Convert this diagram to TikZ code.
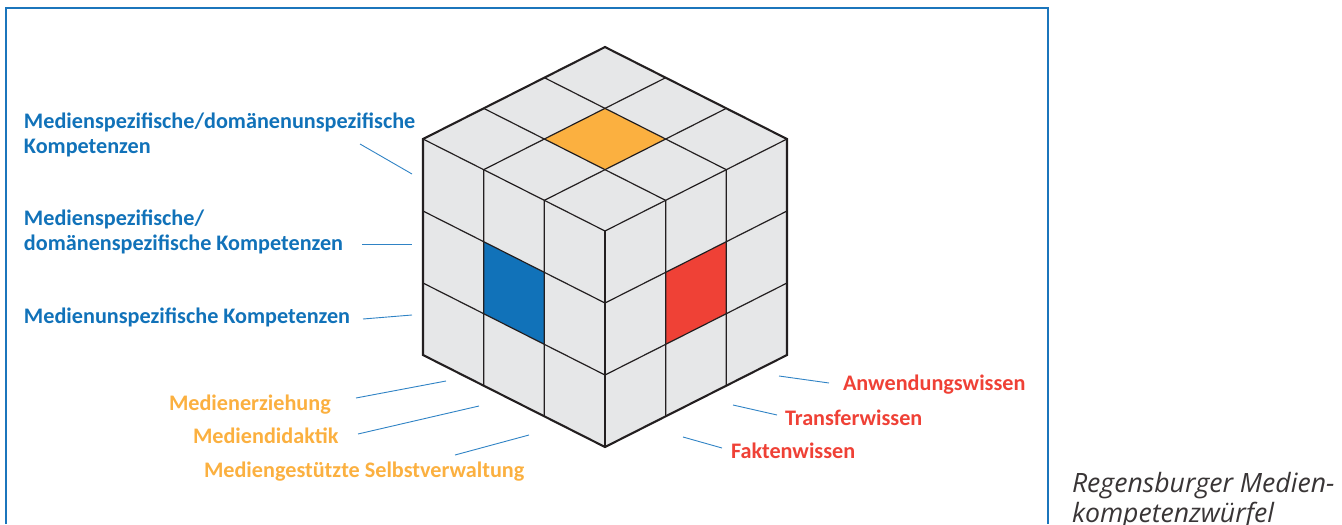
\documentclass[tikz,border=0pt]{standalone}
\usepackage{fontspec}
\newfontfamily\labelfont{Carlito}
\newfontfamily\capfont{Open Sans}
\definecolor{cubegrey}{HTML}{E6E7E8}
\definecolor{edgecolor}{HTML}{231F20}
\definecolor{mkblue}{HTML}{1172B9}
\definecolor{mkorange}{HTML}{FBB040}
\definecolor{mkred}{HTML}{EF4136}
\definecolor{leadcolor}{HTML}{2F83C5}
\definecolor{framecolor}{HTML}{1B75BC}

\begin{document}
\begin{tikzpicture}[
	x=0.5pt, y=-0.5pt,
	every node/.style={inner sep=0pt, outer sep=0pt, anchor=base west},
	cubetext/.style={font=\labelfont\bfseries\fontsize{11.1}{12.2}\selectfont, align=left},
	bluetext/.style={cubetext, text=mkblue},
	orangetext/.style={cubetext, text=mkorange},
	redtext/.style={cubetext, text=mkred},
	captext/.style={font=\capfont\itshape\fontsize{13.3}{15}\selectfont, text=edgecolor!90, align=left},
	leadline/.style={draw=leadcolor, line width=0.45pt},
	gridline/.style={draw=edgecolor, line width=0.6pt},
	outline/.style={draw=edgecolor, line width=1.05pt, line join=miter},
]
\useasboundingbox (0,0) rectangle (1342,524);
% Frame, open at the bottom.
\draw[framecolor, line width=0.9pt] (6,524) -- (6,8) -- (1048,8) -- (1048,524);

% \pointer{name}{start}{end}: thin line from a label towards the cube.
\def\pointer#1#2#3{
	\coordinate (#1a) at #2;
	\coordinate (#1b) at #3;
	\draw[leadline] (#1a) -- (#1b);
}

% The cube: x runs to the left, y to the right, z up; one unit = one cell.
\begin{scope}[shift={(605,447)}, x={(-30.33pt,15.33pt)}, y={(30.33pt,15.33pt)}, z={(0pt,36pt)}]
	\fill[cubegrey] (0,0,0) -- (3,0,0) -- (3,0,3) -- (0,0,3) -- cycle;
	\fill[cubegrey] (0,0,0) -- (0,3,0) -- (0,3,3) -- (0,0,3) -- cycle;
	\fill[cubegrey] (0,0,3) -- (3,0,3) -- (3,3,3) -- (0,3,3) -- cycle;
	\fill[mkblue] (1,0,1) -- (2,0,1) -- (2,0,2) -- (1,0,2) -- cycle;
	\fill[mkred] (0,1,1) -- (0,2,1) -- (0,2,2) -- (0,1,2) -- cycle;
	\fill[mkorange] (1,1,3) -- (2,1,3) -- (2,2,3) -- (1,2,3) -- cycle;
	% cell borders
	\draw[gridline] (1,0,0) -- (1,0,3) -- (1,3,3);
	\draw[gridline] (2,0,0) -- (2,0,3) -- (2,3,3);
	\draw[gridline] (0,1,0) -- (0,1,3) -- (3,1,3);
	\draw[gridline] (0,2,0) -- (0,2,3) -- (3,2,3);
	\draw[gridline] (3,0,1) -- (0,0,1) -- (0,3,1);
	\draw[gridline] (3,0,2) -- (0,0,2) -- (0,3,2);
	\draw[gridline] (3,0,3) -- (0,0,3) -- (0,3,3);
	\draw[gridline, line width=0.8pt] (0,0,0) -- (0,0,3);
	\draw[outline] (0,0,0) -- (3,0,0) -- (3,0,3) -- (3,3,3) -- (0,3,3) -- (0,3,0) -- cycle;
\end{scope}

% Left: kinds of competence (two-line nodes sit on their last line)
\node[bluetext] (MSDU) at (24,153) {Medienspezifische/domänenunspezifische\\Kompetenzen};
\node[bluetext] (MSDS) at (24,250) {Medienspezifische/\\domänenspezifische Kompetenzen};
\node[bluetext] (MU) at (24,323) {Medienunspezifische Kompetenzen};
\pointer{MSDU}{(360,144)}{(412,174)}
\pointer{MSDS}{(362,244)}{(412,244)}
\pointer{MU}{(363,319)}{(412,315)}

% Front: fields of media pedagogy
\node[orangetext] (ME) at (169,410) {Medienerziehung};
\node[orangetext] (MDI) at (193,443) {Mediendidaktik};
\node[orangetext] (MGS) at (204,477) {Mediengestützte Selbstverwaltung};
\pointer{ME}{(356,398)}{(446,381)}
\pointer{MDI}{(358,434)}{(479,406)}
\pointer{MGS}{(455,455)}{(529,435)}

% Right: kinds of knowledge
\node[redtext] (AW) at (843,390) {Anwendungswissen};
\node[redtext] (TW) at (785,425) {Transferwissen};
\node[redtext] (FW) at (731,458) {Faktenwissen};
\pointer{AW}{(779,376)}{(829,383)}
\pointer{TW}{(733,405)}{(777,415)}
\pointer{FW}{(683,437)}{(722,448)}

\node[captext] (title) at (1072,522) {Regensburger Medien-\\kompetenzwürfel};
\end{tikzpicture}
\end{document}
